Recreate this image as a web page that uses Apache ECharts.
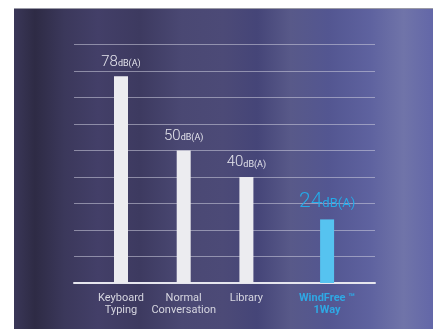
<!DOCTYPE html>
<html>
<head>
<meta charset="utf-8">
<script src="https://cdn.jsdelivr.net/npm/echarts@6/dist/echarts.min.js"></script>
<style>
html,body{margin:0;padding:0;background:#fff;}
#c{width:433px;height:329px;}
</style>
</head>
<body>
<div id="c"></div>
<script>
const categories = ['Keyboard\nTyping', 'Normal\nConversation', 'Library', 'WindFree ™\n1Way'];
const noiseValues = [78, 50, 40, 24];
const unit = 'dB(A)';
const yMax = 90;
const yStep = 10;

const chart = echarts.init(document.getElementById('c'), null, {renderer: 'canvas'});

const whiteData = noiseValues.map((v, i) => i < 3 ? v : '-');
const blueData = noiseValues.map((v, i) => i === 3 ? v : '-');

const gTop = 44.5, gBottom = 46;

const option = {
  animation: false,
  graphic: [{
    type: 'rect', z: -10, silent: true,
    shape: {x: 14, y: 9, width: 419, height: 320},
    style: {
      fill: new echarts.graphic.LinearGradient(0, 0, 1, 0, [
        {offset: 0, color: '#3a3758'},
        {offset: 0.05, color: '#2e2b45'},
        {offset: 0.12, color: '#3b385b'},
        {offset: 0.2, color: '#433f68'},
        {offset: 0.3, color: '#3d3a60'},
        {offset: 0.4, color: '#4a4873'},
        {offset: 0.5, color: '#4c4a77'},
        {offset: 0.58, color: '#454578'},
        {offset: 0.66, color: '#585989'},
        {offset: 0.75, color: '#535691'},
        {offset: 0.85, color: '#5e629f'},
        {offset: 0.93, color: '#7074a9'},
        {offset: 1, color: '#6367a8'}
      ])
    }
  }, {
    type: 'line', z: -9, silent: true,
    shape: {x1: 14, y1: 8.5, x2: 433, y2: 8.5},
    style: {stroke: '#9a9aa6', lineWidth: 1}
  }],
  grid: [
    {left: 74, right: 58, top: gTop, bottom: gBottom},
    {left: 89.65, right: 92.55, top: gTop, bottom: gBottom},
    {left: 107.65, right: 74.55, top: gTop, bottom: gBottom}
  ],
  xAxis: [
    {gridIndex: 0, type: 'value', min: 0, max: 1, show: true,
     axisLine: {show: true, onZero: false, lineStyle: {color: '#e6e6ee', width: 2}},
     axisTick: {show: false}, axisLabel: {show: false}, splitLine: {show: false}},
    {gridIndex: 1, type: 'category', data: categories,
     axisLine: {show: false}, axisTick: {show: false}, splitLine: {show: false},
     axisLabel: {
       interval: 0, margin: 9, color: '#d6d6e0', fontSize: 11, lineHeight: 12,
       fontFamily: 'Roboto, "DejaVu Sans", sans-serif',
       formatter: (v, i) => i < 3 ? v : ''
     }},
    {gridIndex: 2, type: 'category', data: categories,
     axisLine: {show: false}, axisTick: {show: false}, splitLine: {show: false},
     axisLabel: {
       interval: 0, margin: 9, color: '#2fa8e4', fontSize: 11, lineHeight: 12, fontWeight: 'bold',
       fontFamily: 'Roboto, "DejaVu Sans", sans-serif',
       formatter: (v, i) => i === 3 ? v : ''
     }}
  ],
  yAxis: [
    {gridIndex: 0, type: 'value', min: 0, max: yMax, interval: yStep,
     axisLine: {show: false}, axisTick: {show: false}, axisLabel: {show: false},
     splitLine: {show: true, lineStyle: {color: 'rgba(205,205,222,0.55)', width: 1}}},
    {gridIndex: 1, type: 'value', min: 0, max: yMax, show: false},
    {gridIndex: 2, type: 'value', min: 0, max: yMax, show: false}
  ],
  series: [
    {
      type: 'bar', xAxisIndex: 1, yAxisIndex: 1, data: whiteData, barWidth: 14,
      itemStyle: {color: '#ececf0'},
      label: {
        show: true, position: 'top', distance: 7,
        formatter: p => '{n|' + p.value + '}{u|' + unit + '}',
        rich: {
          n: {fontSize: 15, color: '#e4e4ec', fontFamily: 'Roboto, "DejaVu Sans", sans-serif', fontWeight: 300},
          u: {fontSize: 9, color: '#e4e4ec', fontFamily: 'Roboto, "DejaVu Sans", sans-serif', padding: [4, 0, 0, 0]}
        }
      }
    },
    {
      type: 'bar', xAxisIndex: 2, yAxisIndex: 2, data: blueData, barWidth: 14,
      itemStyle: {color: '#56c3f0'},
      label: {
        show: true, position: 'top', distance: 7,
        formatter: p => '{n|' + p.value + '}{u|' + unit + '}',
        rich: {
          n: {fontSize: 21, color: '#25aae8', fontFamily: 'Roboto, "DejaVu Sans", sans-serif', fontWeight: 300},
          u: {fontSize: 13, color: '#25aae8', fontFamily: 'Roboto, "DejaVu Sans", sans-serif', padding: [4, 0, 0, 0]}
        }
      }
    }
  ]
};
chart.setOption(option);
</script>
</body>
</html>
